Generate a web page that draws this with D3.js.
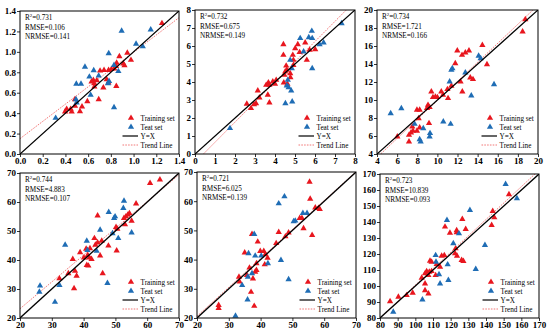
<!DOCTYPE html>
<html><head><meta charset="utf-8">
<script src="https://cdn.jsdelivr.net/npm/d3@7/dist/d3.min.js"></script>
<style>
html,body{margin:0;padding:0;background:#fff;}
svg{display:block;}
</style></head>
<body><svg id="c" width="550" height="335"></svg>
<script>
// ---------- DATA ----------
const p1Train = [[1.25,1.28],[0.875,0.955],[0.945,0.99],[0.977,0.92],[0.851,0.892],[0.845,0.86],[0.83,0.835],[0.91,0.885],[0.92,0.866],[0.805,0.83],[0.74,0.82],[0.78,0.82],[0.705,0.815],[0.646,0.723],[0.63,0.708],[0.655,0.69],[0.655,0.658],[0.676,0.72],[0.763,0.73],[0.778,0.698],[0.734,0.65],[0.848,0.664],[0.693,0.534],[0.593,0.515],[0.546,0.463],[0.484,0.534],[0.484,0.47],[0.446,0.44],[0.411,0.44],[0.397,0.414],[0.455,0.414],[0.528,0.417]];
const p1Test = [[1.151,1.218],[0.895,1.205],[1.022,1.078],[1.081,1.052],[0.781,0.984],[0.572,0.853],[0.649,0.818],[0.693,0.766],[0.611,0.756],[0.784,0.713],[0.775,0.69],[0.828,0.87],[0.866,0.81],[0.496,0.687],[0.537,0.687],[0.622,0.577],[0.493,0.534],[0.499,0.502],[0.828,0.456],[0.314,0.352]];

const p2Train = [[4.42,6.09],[4.42,5.5],[5.14,6.09],[5.01,5.87],[5.51,6.19],[5.23,5.65],[5.73,5.78],[6.01,5.81],[5.59,5.22],[4.89,5.5],[4.92,5.22],[4.92,4.94],[4.56,4.9],[4.59,4.67],[4.51,4.57],[4.47,4.39],[4.76,4.48],[4.77,4.26],[4.44,3.96],[4.62,3.89],[4.06,4.11],[3.89,4.02],[3.67,3.96],[3.72,3.83],[3.56,3.83],[4.0,3.89],[3.64,3.28],[3.14,3.52],[3.22,3.13],[3.72,2.85],[3.05,2.81],[2.95,2.76],[2.59,2.78],[2.8,2.54]];
const p2Test = [[7.33,7.26],[5.26,6.43],[5.84,6.83],[5.69,6.48],[5.86,6.43],[6.23,6.09],[6.43,6.19],[5.43,5.69],[4.76,5.22],[4.84,4.76],[5.86,4.76],[4.64,4.11],[4.59,3.8],[4.68,3.7],[4.81,3.52],[4.52,2.81],[4.86,2.91],[1.75,1.43]];

const p3Train = [[18.74,18.96],[18.47,17.59],[14.47,16.1],[13.14,15.48],[11.98,15.48],[12.45,15.0],[12.78,15.26],[11.78,14.07],[14.93,13.96],[13.27,12.48],[13.54,12.3],[12.3,12.04],[11.39,11.56],[12.48,10.93],[11.0,11.19],[10.39,10.93],[10.56,10.56],[11.06,10.19],[10.0,10.3],[9.4,10.93],[9.56,10.3],[9.8,10.35],[9.07,9.44],[9.23,9.19],[8.97,9.1],[7.97,8.89],[8.24,8.89],[8.14,7.96],[9.17,7.41],[8.24,6.93],[7.51,7.04],[7.58,6.56],[7.97,6.56],[7.18,6.11],[7.38,6.37],[7.18,5.37],[6.02,5.93]];
const p3Test = [[14.1,14.89],[14.3,14.63],[11.49,13.52],[11.39,13.33],[12.78,13.04],[11.22,12.04],[15.63,11.74],[13.37,10.48],[6.42,9.07],[5.36,8.52],[10.59,7.59],[11.32,7.33],[7.74,7.33],[8.6,6.85],[9.27,6.3],[9.23,5.93],[8.24,5.63],[8.34,5.37]];

const p4Train = [[64.0,67.7],[60.9,66.5],[56.5,59.4],[54.4,56.1],[53.9,55.6],[53.3,55.0],[52.7,54.4],[55.1,53.5],[53.0,52.3],[50.2,51.3],[50.6,50.7],[44.4,55.3],[45.7,46.6],[43.4,47.5],[44.4,46.0],[43.7,45.2],[47.8,44.9],[50.4,43.2],[40.8,43.8],[38.9,42.6],[42.0,44.0],[41.3,41.7],[41.8,40.8],[42.5,40.3],[45.2,41.5],[40.1,40.8],[41.0,38.2],[41.5,38.0],[36.6,40.3],[46.0,35.4],[35.2,35.4],[37.3,36.2],[37.8,34.5],[32.4,33.6],[37.0,30.2]];
const p4Test = [[52.7,60.4],[52.5,57.9],[47.9,56.5],[49.9,55.0],[49.6,54.4],[45.2,50.4],[55.1,49.4],[49.1,49.2],[50.9,47.5],[41.0,46.6],[34.2,45.2],[41.2,43.4],[44.1,43.1],[47.5,32.0],[26.3,31.1],[26.1,29.0],[32.4,31.3],[31.0,25.5]];

const p5Train = [[55.4,66.6],[55.6,60.8],[57.2,57.8],[58.6,57.3],[58.2,57.6],[52.3,54.2],[53.0,54.2],[53.5,50.7],[56.2,48.4],[48.8,49.2],[47.8,47.9],[45.7,49.4],[44.9,45.6],[39.1,46.1],[37.3,48.7],[39.9,42.9],[41.0,42.9],[35.0,42.4],[41.5,41.8],[42.2,40.6],[41.3,38.3],[38.7,38.7],[38.7,36.4],[38.3,35.8],[36.5,37.2],[35.7,34.7],[37.6,33.5],[33.2,34.1],[33.4,32.4],[37.0,28.9],[38.0,24.1],[26.8,24.4],[26.8,23.4]];
const p5Test = [[47.5,61.6],[45.7,59.2],[53.3,55.9],[54.6,55.9],[50.9,53.3],[50.4,53.1],[38.0,48.7],[36.2,42.1],[38.3,41.3],[40.2,41.3],[42.3,38.7],[36.0,34.1],[34.2,31.2],[37.3,35.3],[46.4,39.8],[48.8,33.2],[35.9,26.3],[32.1,20.7]];

const p6Train = [[153.0,157.2],[143.8,146.8],[144.7,142.8],[143.2,138.0],[126.6,141.8],[128.5,135.5],[123.4,134.7],[123.4,133.5],[116.8,137.0],[119.6,133.2],[122.8,123.4],[122.5,120.3],[123.6,118.8],[126.2,116.1],[127.2,115.5],[116.4,119.2],[114.9,118.8],[112.1,113.6],[108.3,115.7],[109.2,115.1],[114.0,111.9],[106.4,109.2],[107.9,108.8],[105.5,107.8],[109.2,109.2],[103.6,105.1],[107.4,106.7],[111.5,106.7],[105.5,101.5],[105.5,97.3],[107.4,95.2],[98.5,95.7],[95.1,94.2],[90.4,93.2],[85.7,90.4]];
const p6Test = [[151.1,163.7],[157.5,154.7],[130.9,147.4],[117.9,141.2],[124.7,132.8],[121.5,126.6],[139.4,125.5],[111.5,119.2],[111.7,115.1],[118.3,113.4],[134.2,110.5],[113.4,107.3],[114.0,101.5],[118.7,103.6],[104.0,91.5],[87.5,83.8]];

const statR2 = ["0.731","0.732","0.734","0.744","0.721","0.723"];
const statRMSE = ["0.106","0.675","1.721","4.883","6.025","10.839"];
const statNRMSE = ["0.141","0.149","0.166","0.107","0.139","0.093"];
// trend line [slope, intercept]
const trendCoef = [[0.846,0.15],[1.12,-0.47],[1.057,-0.61],[0.924,4.72],[0.99,0.8],[1.026,-2.06]];
const axisDomains = [[0,1.4],[0,8],[4,20],[20,70],[20,70],[80,170]];
const axisTicks = [
  [0,0.2,0.4,0.6,0.8,1.0,1.2,1.4],
  [0,1,2,3,4,5,6,7,8],
  [4,6,8,10,12,14,16,18,20],
  [20,30,40,50,60,70],
  [20,30,40,50,60,70],
  [80,90,100,110,120,130,140,150,160,170]
];
const tickFormats = [".1f","d","d","d","d","d"];
const legendLabels = ["Training set","Teat set","Y=X","Trend Line"];
const trainSets = [p1Train,p2Train,p3Train,p4Train,p5Train,p6Train];
const testSets = [p1Test,p2Test,p3Test,p4Test,p5Test,p6Test];

// ---------- LAYOUT ----------
const boxes = [
  {l:20,r:179,t:11,b:154},
  {l:195,r:355,t:10,b:154},
  {l:377,r:538,t:10,b:154},
  {l:20,r:179,t:173,b:318},
  {l:197,r:356,t:172,b:318},
  {l:380,r:539,t:174,b:318}
];
const RED="#e8161e", BLUE="#1f6db5", FONT="'Liberation Serif','Times New Roman',serif";
const svg = d3.select("#c");
const tri = d3.symbol().type(d3.symbolTriangle).size(17);

boxes.forEach((bx,i)=>{
  const x = d3.scaleLinear().domain(axisDomains[i]).range([bx.l,bx.r]);
  const y = d3.scaleLinear().domain(axisDomains[i]).range([bx.b,bx.t]);
  const g = svg.append("g");
  const cid = "clip"+i;
  svg.append("clipPath").attr("id",cid).append("rect")
    .attr("x",bx.l).attr("y",bx.t).attr("width",bx.r-bx.l).attr("height",bx.b-bx.t);

  const fmt = d3.format(tickFormats[i]);
  const xa = g.append("g").attr("transform",`translate(0,${bx.b})`)
    .call(d3.axisBottom(x).tickValues(axisTicks[i]).tickFormat(fmt).tickSizeOuter(0).tickSize(3).tickPadding(1));
  const ya = g.append("g").attr("transform",`translate(${bx.l},0)`)
    .call(d3.axisLeft(y).tickValues(axisTicks[i]).tickFormat(fmt).tickSizeOuter(0).tickSize(3).tickPadding(1));
  [xa,ya].forEach(a=>{
    a.select(".domain").remove();
    a.selectAll("line").attr("stroke","#000").attr("stroke-width",0.8);
    a.selectAll("text").attr("font-family",FONT).attr("font-size",9).attr("font-weight","bold").attr("fill","#000");
  });

  const pg = g.append("g").attr("clip-path",`url(#${cid})`);
  // trend line
  const [s,c] = trendCoef[i];
  const d0 = axisDomains[i][0], d1 = axisDomains[i][1];
  pg.append("line").attr("x1",x(d0)).attr("y1",y(s*d0+c)).attr("x2",x(d1)).attr("y2",y(s*d1+c))
    .attr("stroke","#f06a6a").attr("stroke-width",0.9).attr("stroke-dasharray","1.6,1.2");
  // points
  pg.selectAll(".tr").data(trainSets[i]).enter().append("path")
    .attr("d",tri).attr("transform",d=>`translate(${x(d[0])},${y(d[1])})`).attr("fill",RED);
  pg.selectAll(".te").data(testSets[i]).enter().append("path")
    .attr("d",tri).attr("transform",d=>`translate(${x(d[0])},${y(d[1])})`).attr("fill",BLUE);
  // Y=X
  pg.append("line").attr("x1",x(d0)).attr("y1",y(d0)).attr("x2",x(d1)).attr("y2",y(d1))
    .attr("stroke","#000").attr("stroke-width",1.3);
  // frame
  g.append("rect").attr("x",bx.l).attr("y",bx.t).attr("width",bx.r-bx.l).attr("height",bx.b-bx.t)
    .attr("fill","none").attr("stroke","#000").attr("stroke-width",1);

  // stats
  const st = g.append("g").attr("font-family",FONT).attr("font-size",7.2).attr("fill","#000");
  const t1 = st.append("text").attr("x",bx.l+5).attr("y",bx.t+9);
  t1.append("tspan").text("R");
  t1.append("tspan").attr("font-size",4.8).attr("dy",-2.8).text("2");
  t1.append("tspan").attr("dy",2.8).text("="+statR2[i]);
  st.append("text").attr("x",bx.l+5).attr("y",bx.t+18.5).text("RMSE="+statRMSE[i]);
  st.append("text").attr("x",bx.l+5).attr("y",bx.t+28).text("NRMSE="+statNRMSE[i]);

  // legend
  const lg = g.append("g").attr("font-family",FONT).attr("font-size",7.2).attr("fill","#000");
  const rowY = k => bx.b - 36 + k*9;
  const sx = bx.r - 48, tx = bx.r - 38.5;
  lg.append("path").attr("d",tri).attr("transform",`translate(${sx},${rowY(0)})`).attr("fill",RED);
  lg.append("path").attr("d",tri).attr("transform",`translate(${sx},${rowY(1)})`).attr("fill",BLUE);
  lg.append("line").attr("x1",bx.r-56.5).attr("x2",bx.r-41).attr("y1",rowY(2)).attr("y2",rowY(2))
    .attr("stroke","#000").attr("stroke-width",1.2);
  lg.append("line").attr("x1",bx.r-56.5).attr("x2",bx.r-41).attr("y1",rowY(3)).attr("y2",rowY(3))
    .attr("stroke","#f06a6a").attr("stroke-width",0.9).attr("stroke-dasharray","1.6,1.2");
  legendLabels.forEach((lb,k)=>{
    lg.append("text").attr("x",tx).attr("y",rowY(k)+2.5).text(lb);
  });
});
</script></body></html>
